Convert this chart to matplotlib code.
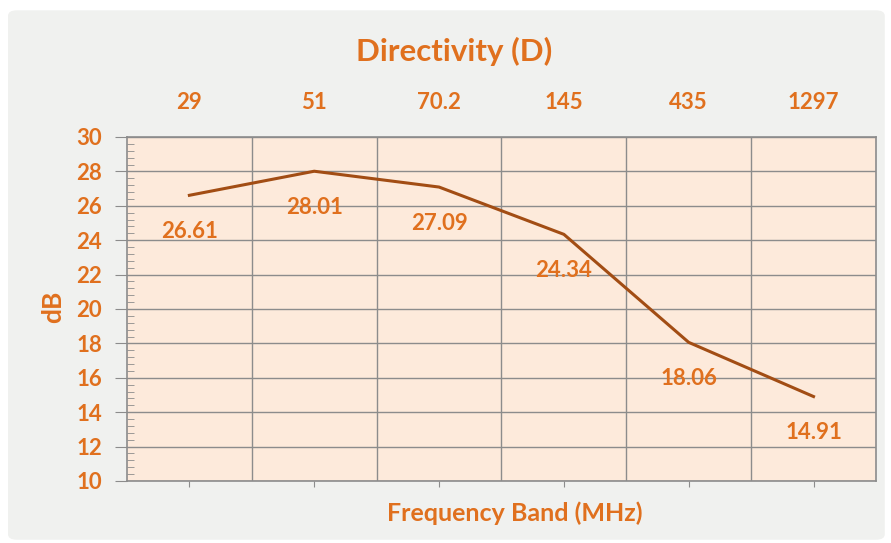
import numpy as np
import matplotlib.pyplot as plt
from matplotlib.patches import FancyBboxPatch
from matplotlib.ticker import MultipleLocator, FixedLocator

bands = ['29', '51', '70.2', '145', '435', '1297']
directivity = [26.61, 28.01, 27.09, 24.34, 18.06, 14.91]
y_ticks = list(range(10, 31, 2))

txt = '#e0701e'
line_c = '#a24d14'
grid_c = '#8c8c8c'

plt.rcParams['font.family'] = ['Lato', 'DejaVu Sans']
plt.rcParams['font.weight'] = 'bold'

fig = plt.figure(figsize=(8.91, 5.43), dpi=100)
fig.patch.set_facecolor('white')
bg = FancyBboxPatch((0.009, 0.006), 0.984, 0.975,
                    boxstyle='round,pad=0,rounding_size=0.01',
                    transform=fig.transFigure, facecolor='#f0f1ef',
                    edgecolor='none', zorder=-10)
fig.add_artist(bg)

ax = fig.add_axes([0.1425, 0.1142, 0.8406, 0.6335])
ax.set_facecolor('#fdeadb')
x = np.arange(len(bands))
ax.plot(x, directivity, color=line_c, lw=2.2, zorder=3)
for xi, v in zip(x, directivity):
    ax.annotate(f'{v:.2f}', (xi, v), xytext=(0, -26), textcoords='offset points',
                ha='center', va='center', color=txt, fontsize=16, fontweight='bold')

ax.set_xlim(-0.5, len(bands) - 0.5)
ax.set_ylim(10, 30)
ax.set_xticks(x)
ax.set_xticklabels(bands)
ax.xaxis.set_minor_locator(FixedLocator(np.arange(0.5, len(bands) - 1, 1)))
ax.set_yticks(y_ticks)
ax.yaxis.set_minor_locator(MultipleLocator(0.4))

ax.tick_params(axis='x', which='major', top=False, labeltop=True, bottom=True,
               labelbottom=False, length=4, color=grid_c, pad=13,
               labelsize=16, labelcolor=txt)
ax.tick_params(axis='x', which='minor', length=0)
ax.tick_params(axis='y', which='major', length=9, color=grid_c, direction='out',
               labelsize=16, labelcolor=txt, pad=9)
ax.tick_params(axis='y', which='minor', length=5, color=grid_c, direction='in')
for lab in ax.get_xticklabels() + ax.get_yticklabels():
    lab.set_fontweight('bold')

ax.grid(axis='y', which='major', color=grid_c, lw=1)
ax.grid(axis='x', which='minor', color=grid_c, lw=1)
for s in ax.spines.values():
    s.set_color(grid_c)
    s.set_linewidth(1.2)

ax.set_xlabel('Frequency Band (MHz)', color=txt, fontsize=18, fontweight='bold')
ax.xaxis.set_label_coords(0.518, -0.06)
ax.set_ylabel('dB', color=txt, fontsize=19, fontweight='bold')
ax.yaxis.set_label_coords(-0.083, 0.505)
fig.text(0.5095, 0.905, 'Directivity (D)', ha='center', va='center', color=txt,
         fontsize=22.5, fontweight='bold')

fig.savefig('out.png', dpi=100)
